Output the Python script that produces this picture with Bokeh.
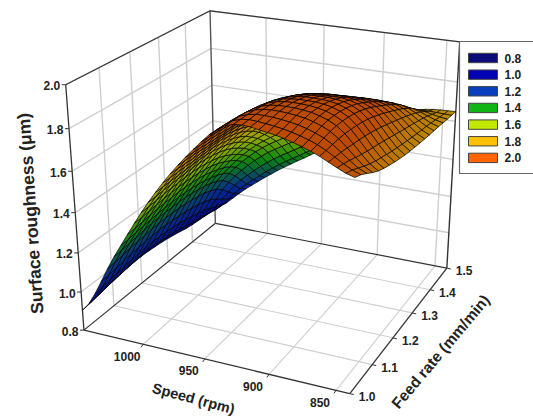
import numpy as np
from bokeh.plotting import figure
from bokeh.models import Range1d
from bokeh.core.properties import value
from bokeh.embed import file_html
from bokeh.resources import INLINE

# Speed (rpm) along the rows, feed rate (mm/min) along the columns
SPEEDS = [1050, 1044, 1038, 1032, 1026, 1020, 1014, 1008, 1002, 996, 990, 984,
          978, 972, 966, 960, 954, 948, 942, 936, 930, 924, 918, 912,
          906, 900, 894, 888, 882, 876, 870, 864, 858, 852, 846, 840]
FEEDS = [1.0, 1.025, 1.05, 1.075, 1.1, 1.125, 1.15, 1.175, 1.2, 1.225, 1.25,
         1.275, 1.3, 1.325, 1.35, 1.375, 1.4, 1.425, 1.45, 1.475, 1.5]
# Surface roughness in nm
ROUGHNESS_NM = [
    [905,910,917,924,930,935,940,944,945,944,940,936,930,923,915,906,900,896,893,891,890],
    [948,953,959,967,972,977,982,985,987,986,983,979,973,966,958,949,941,933,924,916,911],
    [1009,1014,1020,1027,1033,1037,1042,1045,1046,1046,1043,1040,1035,1028,1020,1011,1000,985,968,951,940],
    [1080,1084,1090,1097,1103,1107,1111,1114,1115,1115,1113,1110,1105,1099,1092,1081,1067,1046,1018,992,974],
    [1153,1157,1163,1169,1174,1178,1182,1185,1186,1186,1185,1182,1177,1170,1163,1151,1134,1105,1068,1033,1008],
    [1220,1224,1229,1235,1240,1244,1247,1249,1250,1250,1249,1246,1240,1233,1224,1210,1190,1156,1112,1069,1040],
    [1282,1285,1291,1296,1300,1304,1307,1309,1309,1308,1306,1302,1295,1286,1275,1259,1236,1197,1149,1101,1069],
    [1344,1347,1352,1357,1361,1364,1366,1368,1368,1366,1363,1357,1348,1336,1322,1303,1277,1235,1183,1132,1098],
    [1405,1408,1412,1417,1420,1423,1425,1426,1425,1422,1417,1410,1399,1384,1366,1344,1314,1270,1215,1162,1126],
    [1464,1467,1470,1474,1477,1479,1481,1482,1480,1475,1469,1460,1446,1428,1407,1381,1348,1302,1245,1191,1153],
    [1520,1522,1525,1528,1530,1532,1533,1533,1530,1524,1517,1506,1490,1470,1445,1415,1380,1332,1273,1218,1180],
    [1573,1574,1576,1578,1579,1580,1581,1580,1576,1569,1560,1547,1530,1507,1479,1446,1408,1359,1299,1244,1205],
    [1624,1624,1625,1626,1625,1625,1625,1623,1618,1610,1599,1585,1565,1539,1509,1473,1433,1382,1323,1268,1229],
    [1672,1672,1671,1670,1669,1668,1667,1664,1657,1648,1636,1620,1598,1570,1536,1497,1455,1404,1345,1291,1253],
    [1717,1716,1715,1713,1710,1708,1706,1702,1694,1684,1670,1653,1629,1598,1562,1521,1477,1426,1367,1314,1276],
    [1760,1758,1756,1753,1750,1747,1744,1739,1730,1718,1704,1685,1660,1627,1588,1545,1500,1448,1390,1337,1300],
    [1801,1799,1797,1794,1789,1785,1781,1775,1765,1752,1737,1718,1692,1657,1616,1571,1524,1472,1414,1361,1324],
    [1841,1839,1837,1833,1828,1823,1818,1810,1799,1785,1770,1750,1723,1687,1644,1597,1549,1496,1438,1385,1348],
    [1878,1876,1873,1870,1864,1858,1851,1842,1830,1816,1801,1780,1753,1715,1671,1622,1573,1520,1462,1409,1372],
    [1908,1906,1904,1901,1896,1889,1881,1871,1858,1843,1827,1807,1779,1741,1696,1646,1597,1544,1485,1433,1396],
    [1930,1929,1928,1925,1920,1913,1904,1894,1880,1865,1849,1828,1800,1763,1718,1669,1620,1567,1509,1456,1420],
    [1942,1942,1941,1940,1936,1930,1921,1910,1896,1881,1864,1843,1815,1779,1736,1690,1643,1590,1533,1481,1444],
    [1945,1946,1948,1948,1946,1940,1932,1921,1908,1892,1875,1853,1826,1792,1753,1710,1665,1614,1557,1505,1469],
    [1942,1944,1948,1951,1950,1946,1938,1928,1915,1899,1881,1859,1833,1802,1767,1728,1687,1637,1581,1530,1494],
    [1936,1940,1946,1951,1951,1948,1941,1932,1919,1903,1884,1863,1837,1809,1778,1744,1705,1658,1603,1553,1518],
    [1930,1935,1942,1948,1950,1947,1941,1932,1920,1904,1886,1864,1840,1814,1786,1755,1720,1675,1622,1574,1540],
    [1924,1929,1937,1944,1947,1945,1940,1931,1920,1904,1886,1865,1842,1818,1792,1763,1731,1688,1639,1593,1561],
    [1915,1921,1930,1938,1942,1940,1936,1928,1917,1903,1885,1864,1843,1820,1796,1769,1739,1699,1654,1611,1582],
    [1905,1911,1920,1928,1932,1932,1928,1921,1911,1897,1880,1861,1840,1819,1796,1771,1743,1707,1666,1627,1600],
    [1893,1899,1907,1915,1919,1918,1915,1908,1899,1886,1870,1852,1833,1813,1792,1769,1744,1712,1675,1641,1617],
    [1880,1885,1891,1897,1900,1899,1895,1889,1880,1868,1854,1837,1820,1802,1783,1763,1740,1712,1680,1650,1630],
    [1865,1866,1869,1871,1871,1868,1863,1857,1849,1838,1825,1811,1796,1781,1765,1748,1729,1706,1680,1656,1639],
    [1846,1844,1841,1837,1832,1827,1821,1814,1806,1796,1785,1774,1762,1750,1738,1725,1711,1694,1675,1656,1644],
    [1828,1821,1812,1801,1792,1783,1775,1768,1760,1751,1743,1734,1725,1717,1709,1700,1691,1680,1667,1655,1647],
    [1811,1801,1785,1769,1755,1744,1735,1726,1718,1711,1704,1698,1692,1687,1682,1678,1672,1666,1659,1653,1648],
    [1800,1787,1768,1747,1730,1717,1707,1698,1690,1683,1678,1674,1670,1667,1664,1662,1660,1657,1654,1652,1650],
]
SPEED_TICKS = [1000, 950, 900, 850]
FEED_TICKS = [1.0, 1.1, 1.2, 1.3, 1.4, 1.5]
Z_TICKS = [0.8, 1.0, 1.2, 1.4, 1.6, 1.8, 2.0]
LEVELS = ["0.8", "1.0", "1.2", "1.4", "1.6", "1.8", "2.0"]
LEVEL_COLORS = ["#0a0a78", "#0000b4", "#0a3cc0", "#10b414", "#c0e800", "#ffc000", "#ff6400"]

S0, S1, F0, F1, Z0, Z1 = 1050.0, 840.0, 1.0, 1.5, 0.8, 2.0

# The box's seven visible corners fix the perspective of the 3D view
corners = [((0,0,0),(83,329)),((1,0,0),(350,393)),((1,1,0),(446,268)),((0,1,0),(215,223)),
           ((0,0,1),(65,85)),((0,1,1),(210,10)),((1,1,1),(459,41))]
A = []
for (X,Y,Z_),(x,y) in corners:
    A.append([X,Y,Z_,1,0,0,0,0,-x*X,-x*Y,-x*Z_,-x])
    A.append([0,0,0,0,X,Y,Z_,1,-y*X,-y*Y,-y*Z_,-y])
P = np.linalg.svd(np.array(A,float))[2][-1].reshape(3,4)
if P[2,3] < 0: P = -P

def proj(s, f, z):
    s, f, z = np.asarray(s,float), np.asarray(f,float), np.asarray(z,float)
    H = np.stack([(S0-s)/(S0-S1), (f-F0)/(F1-F0), (z-Z0)/(Z1-Z0), np.ones_like(s+f+z)], -1)
    q = H @ P.T
    return q[...,0]/q[...,2], q[...,1]/q[...,2], q[...,2]

Z = np.array(ROUGHNESS_NM, float)/1000.0
SP = np.array(SPEEDS, float); FE = np.array(FEEDS, float)
NS, NF = len(SP), len(FE)

p = figure(width=533, height=416, x_range=Range1d(0,533), y_range=Range1d(416,0),
           output_backend="svg", toolbar_location=None, min_border=0, outline_line_color=None)
p.xaxis.visible = False; p.yaxis.visible = False; p.grid.visible = False

def L(ss, ff, zz, color, w):
    x,y,_ = proj(ss,ff,zz)
    p.line(list(map(float,x)), list(map(float,y)), line_color=color, line_width=w)

GRID="#cfcfcf"
for z in Z_TICKS[1:]:
    L([S0,S0],[F0,F1],[z,z],GRID,1.4)
    L([S0,S1],[F1,F1],[z,z],GRID,1.4)
for s in SPEED_TICKS:
    L([s,s],[F0,F1],[Z0,Z0],GRID,1.1)
    L([s,s],[F1,F1],[Z0,Z1],GRID,1.4)
for f in FEED_TICKS[1:-1]:
    L([S1,S0],[f,f],[Z0,Z0],GRID,1.1)
    L([S0,S0],[f,f],[Z0,Z1],GRID,1.4)
EDGE="#333333"
L([S0,S0],[F1,F1],[Z0,Z1],"#555555",1.4)
L([S0,S1],[F1,F1],[Z1,Z1],EDGE,1.2)
L([S1,S1],[F1,F1],[Z0,Z1],EDGE,1.4)
L([S0,S0],[F0,F1],[Z1,Z1],EDGE,1.2)
L([S0,S0],[F0,F1],[Z0,Z0],EDGE,1.2)
L([S0,S1],[F1,F1],[Z0,Z0],EDGE,1.2)
L([S0,S1],[F0,F0],[Z0,Z0],EDGE,1.3)
L([S1,S1],[F0,F1],[Z0,Z0],EDGE,1.3)
L([S0,S0],[F0,F0],[Z0,Z1],EDGE,1.3)

# surface
stops = np.array([[int(c[i:i+2],16) for i in (1,3,5)] for c in LEVEL_COLORS],float)
zc = [0.9,1.1,1.3,1.5,1.64,1.84]
DARK = 0.74
def col(z):
    r = [np.interp(z, zc, stops[1:,k])*DARK for k in range(3)]
    return "#%02x%02x%02x" % tuple(int(v) for v in r)
X,Y,W = proj(SP[:,None]*np.ones_like(Z), FE[None,:]*np.ones_like(Z), Z)
cells=[]
for i in range(NS-1):
    for j in range(NF-1):
        cells.append((W[i:i+2,j:j+2].mean(), i, j))
cells.sort(key=lambda c:-c[0])
xs,ys,cs=[],[],[]
for _,i,j in cells:
    xs.append([float(X[i,j]),float(X[i+1,j]),float(X[i+1,j+1]),float(X[i,j+1])])
    ys.append([float(Y[i,j]),float(Y[i+1,j]),float(Y[i+1,j+1]),float(Y[i,j+1])])
    cs.append(col(Z[i:i+2,j:j+2].mean()))
p.patches(xs,ys,fill_color=cs,line_color="#000000",line_width=0.7)

FONT=value("Liberation Sans"); TC="#222222"
def T(x,y,t,size,align="center",angle=0):
    p.text([float(x)],[float(y)],text=[t],text_font=FONT,text_font_style="bold",text_font_size=size,
           text_color=TC,text_align=align,text_baseline="middle",angle=angle)

for z in Z_TICKS:
    x,y,_=proj(S0,F0,z)
    p.line([float(x)-4,float(x)],[float(y),float(y)],line_color=EDGE,line_width=1)
    T(x-5.5,y+1,f"{z:.1f}","12px","right")
for s in SPEED_TICKS:
    x,y,_=proj(s,F0,Z0)
    p.line([float(x),float(x)-2],[float(y),float(y)+3],line_color=EDGE,line_width=1)
    T(x-16,y+12,str(s),"12px")
for f in FEED_TICKS:
    x,y,_=proj(S1,f,Z0)
    p.line([float(x),float(x)+4],[float(y),float(y)+1],line_color=EDGE,line_width=1)
    T(x+9,y+2.5,f"{f:.1f}","12px","left")
T(30,213,"Surface roughness (\u03bcm)","17.5px",angle=np.deg2rad(94))
T(193,398,"Speed (rpm)","14.5px",angle=np.deg2rad(-15))
T(440,351,"Feed rate (mm/min)","15.5px",angle=np.deg2rad(50))

# legend
p.quad(left=[459],right=[545],top=[41],bottom=[173],fill_color="white",line_color="#666666",line_width=1.2)
for i,(lab,c) in enumerate(zip(LEVELS,LEVEL_COLORS)):
    yy=57.5+16.65*i
    p.quad(left=[468],right=[497],top=[yy-4.7],bottom=[yy+4.7],fill_color=c,line_color="#444444",line_width=1)
    T(504,yy,lab,"12px","left")

open("out.html","w").write(file_html(p,INLINE))
